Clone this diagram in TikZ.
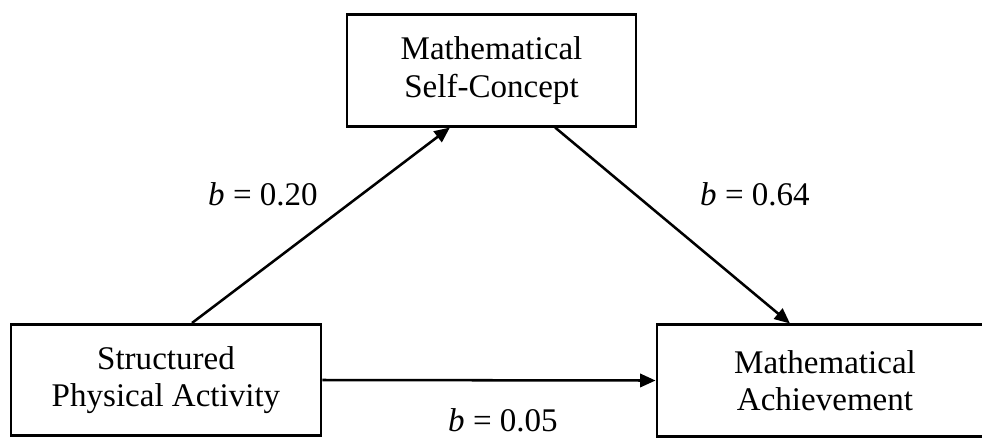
\documentclass[tikz,border=0pt]{standalone}
\usepackage{fontspec}
\setmainfont{Liberation Serif}
\usetikzlibrary{arrows.meta}

\begin{document}
\begin{tikzpicture}[x=0.025cm, y=-0.025cm,
    >={Triangle[length=11pt, width=9.5pt]},
    every node/.style={font=\fontsize{23.5}{26.4}\selectfont},
    varbox/.style={draw, line width=2pt, align=center, minimum height=2.78cm},
    path/.style={->, line width=1.8pt}]
    \useasboundingbox (0,0) rectangle (982,437);

    % Variables
    \node[varbox, minimum width=7.75cm] (spa) at (166,380) {Structured\\Physical Activity};
    \node[varbox, minimum width=7.22cm] (msc) at (491.5,70.5) {Mathematical\\Self-Concept};
    \node[varbox, minimum width=8.4cm] (ach) at (825,380.5) {Mathematical\\Achievement};

    % Caminos
    \draw[path] ([xshift=0.65cm]spa.north) -- ([xshift=-1.04cm]msc.south);
    \draw[path] ([xshift=1.59cm]msc.south) -- ([xshift=-0.875cm]ach.north);
    \draw[path] (spa.east) -- (ach.west);

    % Coeficientes
    \node (bA) at (263,194) {\textit{b} = 0.20};
    \node (bB) at (755,194) {\textit{b} = 0.64};
    \node[anchor=base] (bC) at (503,431) {\textit{b} = 0.05};
\end{tikzpicture}
\end{document}
